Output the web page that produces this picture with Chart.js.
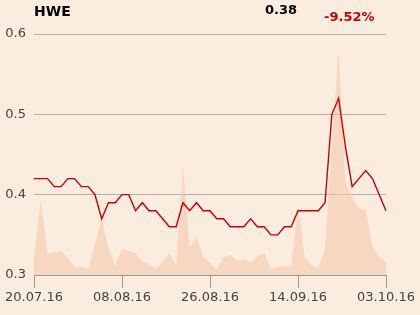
<!DOCTYPE html>
<html>
<head>
<meta charset="utf-8">
<script src="https://cdn.jsdelivr.net/npm/chart.js@4"></script>
<style>
  html, body { margin: 0; padding: 0; background: #fbece0; }
  #wrap { position: relative; width: 420px; height: 315px; font-family: "DejaVu Sans", sans-serif; }
  canvas { position: absolute; left: 0; top: 0; }
  .lbl { position: absolute; font-weight: bold; font-size: 13px; line-height: 1; white-space: nowrap; }
</style>
</head>
<body>
<div id="wrap">
  <canvas id="chart" width="420" height="315"></canvas>
  <div class="lbl" id="ticker" style="left:34px; top:4px; font-size:14px; color:#000;">HWE</div>
  <div class="lbl" id="last" style="right:123px; top:3px; color:#000;">0.38</div>
  <div class="lbl" id="chg" style="left:324px; top:10px; color:#cc0000;">-9.52%</div>
</div>
<script>
// fechas (días hábiles) — solo algunas se muestran como etiqueta
const fechas = [
  "20.07.16","21.07.16","22.07.16","25.07.16","26.07.16","27.07.16","28.07.16","29.07.16",
  "01.08.16","02.08.16","03.08.16","04.08.16","05.08.16","08.08.16","09.08.16","10.08.16",
  "11.08.16","12.08.16","16.08.16","17.08.16","18.08.16","19.08.16","22.08.16","23.08.16",
  "24.08.16","25.08.16","26.08.16","29.08.16","30.08.16","31.08.16","01.09.16","02.09.16",
  "05.09.16","06.09.16","07.09.16","08.09.16","09.09.16","12.09.16","13.09.16","14.09.16",
  "15.09.16","16.09.16","19.09.16","20.09.16","21.09.16","22.09.16","23.09.16","26.09.16",
  "27.09.16","28.09.16","29.09.16","30.09.16","03.10.16"
];
const etiquetasX = ["20.07.16","08.08.16","26.08.16","14.09.16","03.10.16"];

const precio = [
  0.42,0.42,0.42,0.41,0.41,0.42,0.42,0.41,0.41,0.40,
  0.37,0.39,0.39,0.40,0.40,0.38,0.39,0.38,0.38,0.37,
  0.36,0.36,0.39,0.38,0.39,0.38,0.38,0.37,0.37,0.36,
  0.36,0.36,0.37,0.36,0.36,0.35,0.35,0.36,0.36,0.38,
  0.38,0.38,0.38,0.39,0.50,0.52,0.46,0.41,0.42,0.43,
  0.42,0.40,0.38
];

// volumen (unidades relativas)
const volumen = [
  18,75,21,23,24,17,8,8,6,31,
  56,27,9,26,24,22,13,11,6,13,
  22,9,110,28,38,18,12,6,18,20,
  14,16,12,19,22,6,8,9,9,69,
  18,10,7,27,130,226,92,78,67,65,
  29,18,13
];

const yTicks = [0.3, 0.4, 0.5, 0.6];

const ctx = document.getElementById("chart").getContext("2d");
new Chart(ctx, {
  type: "line",
  data: {
    labels: fechas,
    datasets: [
      {
        label: "HWE",
        data: precio,
        yAxisID: "y",
        borderColor: "#cc0000",
        borderWidth: 1.4,
        pointRadius: 0,
        tension: 0,
        fill: false
      },
      {
        label: "Volumen",
        data: volumen,
        yAxisID: "y2",
        borderWidth: 0,
        borderColor: "rgba(0,0,0,0)",
        backgroundColor: "rgba(245,199,168,0.55)",
        pointRadius: 0,
        tension: 0,
        fill: "start"
      }
    ]
  },
  options: {
    responsive: false,
    animation: false,
    layout: { padding: { top: 34, right: 34, left: 0, bottom: 0 } },
    plugins: { legend: { display: false }, tooltip: { enabled: false } },
    scales: {
      x: {
        type: "category",
        offset: false,
        afterFit: s => { s.height = 40; },
        afterBuildTicks: s => {
          s.ticks = s.ticks.filter(t => etiquetasX.includes(fechas[t.value]));
        },
        grid: { drawOnChartArea: false, color: "#999", tickLength: 13 },
        border: { color: "#999", width: 1 },
        ticks: {
          autoSkip: false,
          maxRotation: 0,
          color: "#444",
          font: { family: "DejaVu Sans", size: 13 },
          padding: 2,
          callback: function(v) { return this.getLabelForValue(v); }
        }
      },
      y: {
        min: 0.3,
        max: 0.6,
        afterFit: s => { s.width = 34; },
        afterBuildTicks: s => { s.ticks = yTicks.map(v => ({ value: v })); },
        grid: { color: "#b5b0ab", drawTicks: false, lineWidth: 1 },
        border: { display: false },
        ticks: {
          color: "#444",
          padding: 8,
          font: { family: "DejaVu Sans", size: 13 },
          callback: v => v.toFixed(1)
        }
      },
      y2: {
        display: false,
        min: 0,
        max: 241
      }
    }
  }
});
</script>
</body>
</html>
